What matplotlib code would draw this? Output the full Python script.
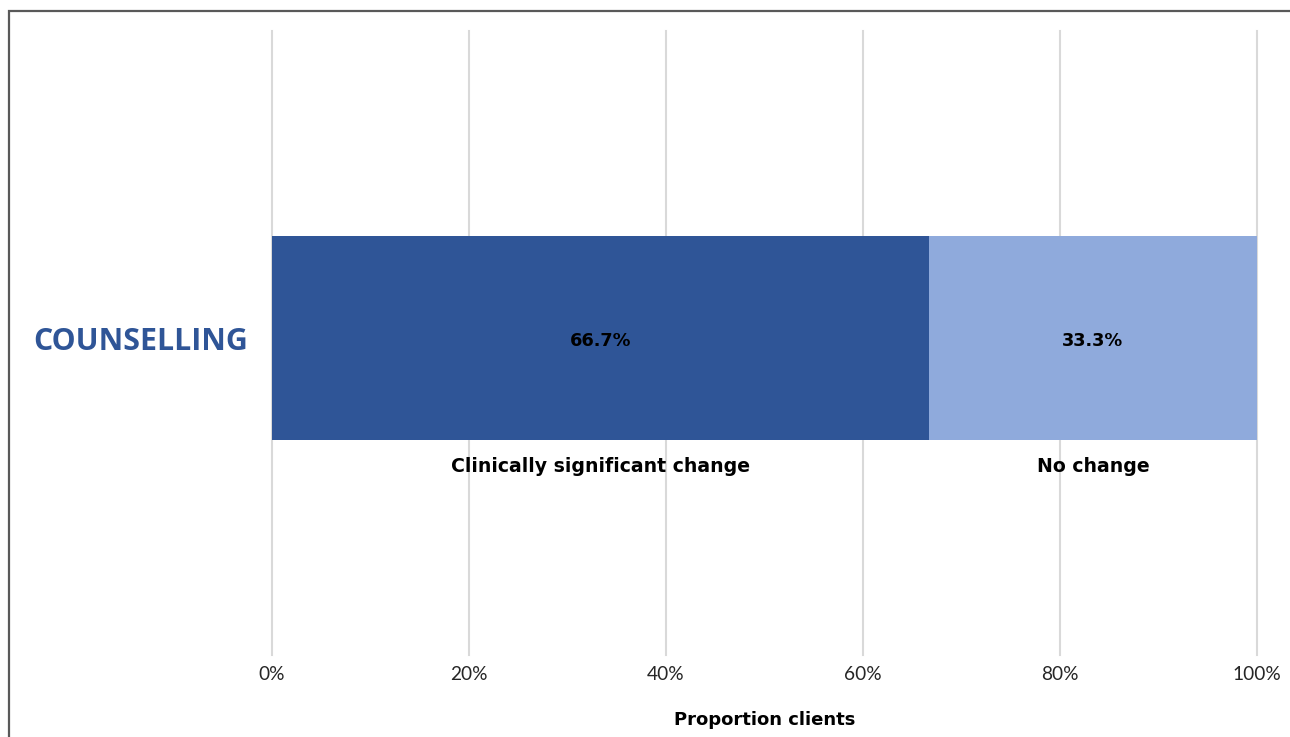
import matplotlib.pyplot as plt
from matplotlib.patches import Rectangle

# Proportion of clients by outcome
service = "COUNSELLING"
outcomes = ["Clinically significant change", "No change"]
shares = [66.7, 33.3]
colours = ["#2F5597", "#8FAADC"]
xticks = [0, 20, 40, 60, 80, 100]

fig = plt.figure(figsize=(12.9, 7.37), dpi=100)
ax = fig.add_axes([272 / 1290, 1 - 655 / 737, (1257 - 272) / 1290, (655 - 31) / 737])

bar_h = 0.327
left = 0
for name, val, col in zip(outcomes, shares, colours):
    ax.barh(0, val, left=left, height=bar_h, color=col, zorder=3)
    mid = left + val / 2
    ax.text(mid, -0.004, f"{val:.1f}%", ha="center", va="center",
            fontsize=12.8, fontweight="bold", family="DejaVu Sans", color="black", zorder=4)
    ax.text(mid, -bar_h / 2 - 0.042, name, ha="center", va="center",
            fontsize=13.6, fontweight="bold", family="DejaVu Sans", color="black", zorder=4)
    left += val

ax.set_xlim(0, 100)
ax.set_ylim(-0.508, 0.492)
ax.set_xticks(xticks)
ax.set_xticklabels([f"{t}%" for t in xticks], family="Lato", fontsize=13.8, color="#262626")
ax.set_yticks([])
ax.tick_params(axis="x", length=0, pad=8)
ax.grid(axis="x", color="#D9D9D9", linewidth=1.5, zorder=0)
for gl in ax.get_xgridlines():
    gl.set_clip_on(False)
for s in ax.spines.values():
    s.set_visible(False)

ax.set_xlabel("Proportion clients", fontsize=13, fontweight="bold",
              family="DejaVu Sans", labelpad=20)

fig.text(33 / 1290, 1 - 342 / 737, service, ha="left", va="center",
         fontsize=21.8, fontweight="bold", family="Open Sans", color="#2F5597")

# outer frame
fig.patches.append(Rectangle((8.5 / 1290, -0.01), 1.02, 1 - 10.5 / 737 + 0.01,
                             transform=fig.transFigure, fill=False,
                             edgecolor="#595959", linewidth=1.6))

fig.savefig("out.png", dpi=100)
